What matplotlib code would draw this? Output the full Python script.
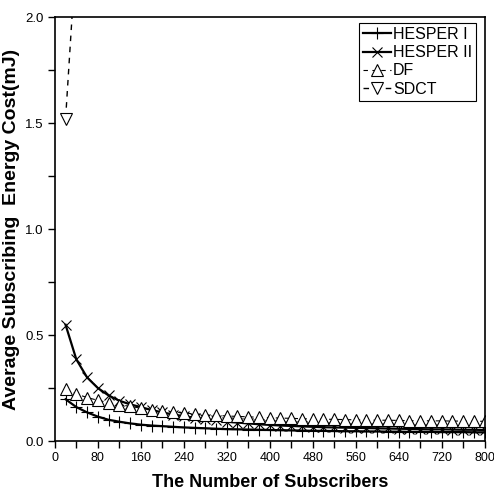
import matplotlib.pyplot as plt
from matplotlib.ticker import MultipleLocator

subscribers = list(range(20, 801, 20))

hesper1 = [0.197, 0.160, 0.135, 0.115, 0.100, 0.091, 0.083, 0.077, 0.073, 0.070,
           0.067, 0.064, 0.062, 0.060, 0.058, 0.056, 0.055, 0.054, 0.053, 0.052,
           0.051, 0.050, 0.049, 0.048, 0.048, 0.047, 0.046, 0.046, 0.045, 0.045,
           0.044, 0.044, 0.043, 0.043, 0.043, 0.042, 0.042, 0.042, 0.041, 0.041]
hesper2 = [0.548, 0.385, 0.300, 0.250, 0.215, 0.190, 0.173, 0.160, 0.146, 0.135,
           0.125, 0.117, 0.110, 0.103, 0.097, 0.091, 0.087, 0.083, 0.079, 0.076,
           0.073, 0.071, 0.069, 0.067, 0.065, 0.064, 0.063, 0.062, 0.061, 0.060,
           0.059, 0.058, 0.057, 0.056, 0.055, 0.055, 0.054, 0.053, 0.053, 0.052]
df_cost = [0.245, 0.222, 0.205, 0.192, 0.181, 0.172, 0.163, 0.155, 0.148, 0.142,
           0.137, 0.132, 0.128, 0.124, 0.121, 0.118, 0.116, 0.114, 0.112, 0.110,
           0.108, 0.107, 0.105, 0.104, 0.103, 0.102, 0.101, 0.100, 0.099, 0.098,
           0.098, 0.097, 0.096, 0.096, 0.095, 0.095, 0.094, 0.094, 0.093, 0.093]
sdct_x = [20, 40]
sdct = [1.52, 2.32]

font = ['Liberation Sans', 'DejaVu Sans']

fig = plt.figure(figsize=(4.94, 5), dpi=100)
ax = fig.add_axes([0.111, 0.118, 0.870, 0.848])

ax.plot(subscribers, hesper1, color='black', lw=1.6, marker='+', ms=9, mew=0.8,
        label='HESPER I')
ax.plot(subscribers, hesper2, color='black', lw=1.6, marker='x', ms=7, mew=0.8,
        label='HESPER II')
ax.plot(subscribers, df_cost, color='black', lw=0.8, ls=(0, (4, 4)), marker='^',
        ms=8, mfc='white', mew=0.8, label='DF')
ax.plot(sdct_x, sdct, color='black', lw=1.0, ls=(0, (4, 4)), marker='v',
        ms=8, mfc='white', mew=0.8, label='SDCT')

ax.set_xlim(0, 800)
ax.set_ylim(0, 2.0)
ax.xaxis.set_major_locator(MultipleLocator(80))
ax.xaxis.set_minor_locator(MultipleLocator(40))
ax.yaxis.set_major_locator(MultipleLocator(0.5))
ax.yaxis.set_minor_locator(MultipleLocator(0.25))
ax.yaxis.set_major_formatter(plt.FormatStrFormatter('%.1f'))
ax.tick_params(which='both', direction='out', length=5, width=1, pad=3)
for lab in ax.get_xticklabels():
    lab.set_family(font)
    lab.set_fontsize(9)
for lab in ax.get_yticklabels():
    lab.set_family(font)
    lab.set_fontsize(9.5)
for sp in ax.spines.values():
    sp.set_linewidth(1.2)

ax.set_xlabel('The Number of Subscribers', family=font, fontsize=13,
              fontweight='bold', labelpad=7)
ax.set_ylabel('Average Subscribing  Energy Cost(mJ)', family=font,
              fontsize=14, fontweight='bold', labelpad=4)

leg = ax.legend(loc='upper right', bbox_to_anchor=(0.98, 0.986),
                prop={'family': font, 'size': 11.5}, handlelength=1.8,
                handletextpad=0.1, borderpad=0.25, labelspacing=0.2,
                fancybox=False, framealpha=1, borderaxespad=0)
leg.get_frame().set_edgecolor('black')
leg.get_frame().set_linewidth(0.8)

plt.savefig('out.png', dpi=100)
